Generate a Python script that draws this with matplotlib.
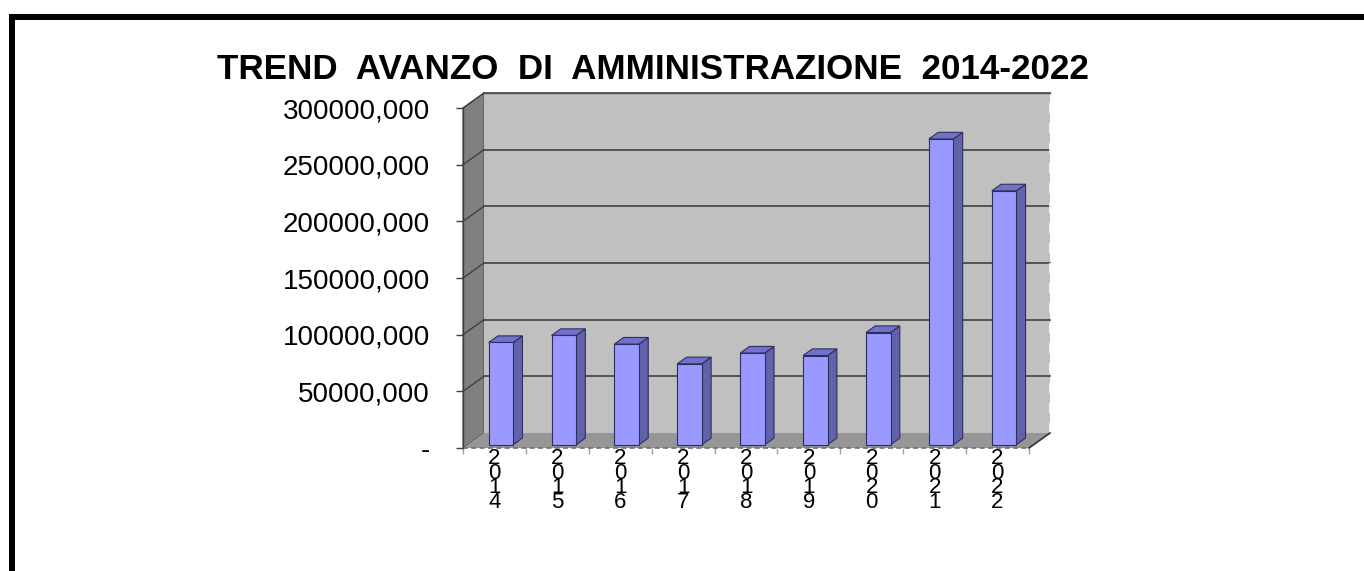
import matplotlib
matplotlib.use("Agg")
import matplotlib.pyplot as plt
from matplotlib.patches import Polygon, Rectangle

# ---- data ----
years = ["2014", "2015", "2016", "2017", "2018", "2019", "2020", "2021", "2022"]
values = [90200, 96400, 88800, 71400, 80900, 78700, 99000, 269800, 224000]
yticks = [0, 50000, 100000, 150000, 200000, 250000, 300000]
ytick_labels = ["-", "50000,000", "100000,000", "150000,000", "200000,000",
                "250000,000", "300000,000"]
title = "TREND  AVANZO  DI  AMMINISTRAZIONE  2014-2022"

plt.rcParams['font.family'] = ['Liberation Sans', 'DejaVu Sans']

W, H = 1364, 571
fig = plt.figure(figsize=(W / 100, H / 100), dpi=100)
fig.patch.set_facecolor("white")

# front plane of the 3D box in pixels
x_left, x_right = 463, 1029
y_zero, y_top = 448, 108
ax = fig.add_axes([x_left / W, (H - y_zero) / H, (x_right - x_left) / W, (y_zero - y_top) / H])
n = len(years)
ymax = 300000
ax.set_xlim(0, n)
ax.set_ylim(0, ymax)
ax.set_facecolor("none")

# depth vector in data units (21 px right, 15 px up)
Dx = 21 / ((x_right - x_left) / n)
Dy = 15 / ((y_zero - y_top) / ymax)

# walls and floor
ax.add_patch(Polygon([(0, 0), (0, ymax), (Dx, ymax + Dy), (Dx, Dy)], closed=True,
                     facecolor="#808080", edgecolor="#505050", lw=0.8, clip_on=False, zorder=1))
ax.add_patch(Polygon([(Dx, Dy), (Dx, ymax + Dy), (n + Dx, ymax + Dy), (n + Dx, Dy)], closed=True,
                     facecolor="#C0C0C0", edgecolor="none", clip_on=False, zorder=1))
ax.add_patch(Polygon([(0, 0), (n, 0), (n + Dx, Dy), (Dx, Dy)], closed=True,
                     facecolor="#969696", edgecolor="none", clip_on=False, zorder=2))

# gridlines on back and left walls
for v in yticks[1:]:
    ax.plot([Dx, n + Dx], [v + Dy, v + Dy], color="#404040", lw=1.2, clip_on=False, zorder=1.5)
    ax.plot([0, Dx], [v, v + Dy], color="#404040", lw=1.0, clip_on=False, zorder=1.5)
# top edge of the back wall and right edge
ax.plot([Dx, n + Dx], [ymax + Dy, ymax + Dy], color="#505050", lw=1.0, clip_on=False, zorder=1.6)
ax.plot([n + Dx, n + Dx], [Dy, ymax + Dy], color="white", lw=1.2, ls=(0, (6, 6)), clip_on=False, zorder=1.6)
# floor edges
ax.plot([0, n], [0, 0], color="#707070", lw=1.2, ls=(0, (3, 2)), clip_on=False, zorder=2.5)
ax.plot([n, n + Dx], [0, Dy], color="#303030", lw=1.2, clip_on=False, zorder=2.5)

# bars
f0, f1 = 0.22, 0.66
bw = 0.39
ddx, ddy = (f1 - f0) * Dx, (f1 - f0) * Dy
for i, v in enumerate(values):
    x0 = i + 0.5 - bw / 2 + f0 * Dx + 0.03
    x1 = x0 + bw
    y0 = f0 * Dy
    y1 = y0 + v
    ec = "#2E2E5E"
    ax.add_patch(Polygon([(x1, y0), (x1 + ddx, y0 + ddy), (x1 + ddx, y1 + ddy), (x1, y1)], closed=True,
                         facecolor="#6262AA", edgecolor=ec, lw=0.8, clip_on=False, zorder=3))
    ax.add_patch(Polygon([(x0, y1), (x1, y1), (x1 + ddx, y1 + ddy), (x0 + ddx, y1 + ddy)], closed=True,
                         facecolor="#7272CC", edgecolor=ec, lw=0.8, clip_on=False, zorder=3))
    ax.add_patch(Rectangle((x0, y0), bw, v, facecolor="#9999FF", edgecolor=ec, lw=0.8,
                           clip_on=False, zorder=3.1))

# axes styling
for s in ["top", "right", "bottom"]:
    ax.spines[s].set_visible(False)
ax.spines["left"].set_color("#404040")
ax.spines["left"].set_linewidth(1.0)
ax.spines["left"].set_zorder(2.6)

ax.set_yticks(yticks)
ax.set_yticklabels(ytick_labels)
ax.tick_params(axis="y", length=5, width=1, color="#404040", pad=18.7, labelsize=20)

ax.set_xticks([i + 0.5 for i in range(n)])
ax.set_xticklabels(["\n".join(y) for y in years], linespacing=0.6)
ax.set_xticks(range(n + 1), minor=True)
ax.tick_params(axis="x", which="major", length=0, pad=0, labelsize=16)
ax.tick_params(axis="x", which="minor", length=4, width=1, color="#A0A0A0")

# title
fig.text(653 / W, 1 - 79 / H, title, ha="center", va="baseline",
         fontsize=25.2, fontweight="bold", color="black")

# outer black frame (right and bottom edges fall outside the image)
fig.patches.append(Rectangle((12 / W, -0.2), 2.0, 1 - 17 / H + 0.2, transform=fig.transFigure,
                             facecolor="none", edgecolor="black", lw=4.32, figure=fig))

fig.savefig("out.png", dpi=100)
